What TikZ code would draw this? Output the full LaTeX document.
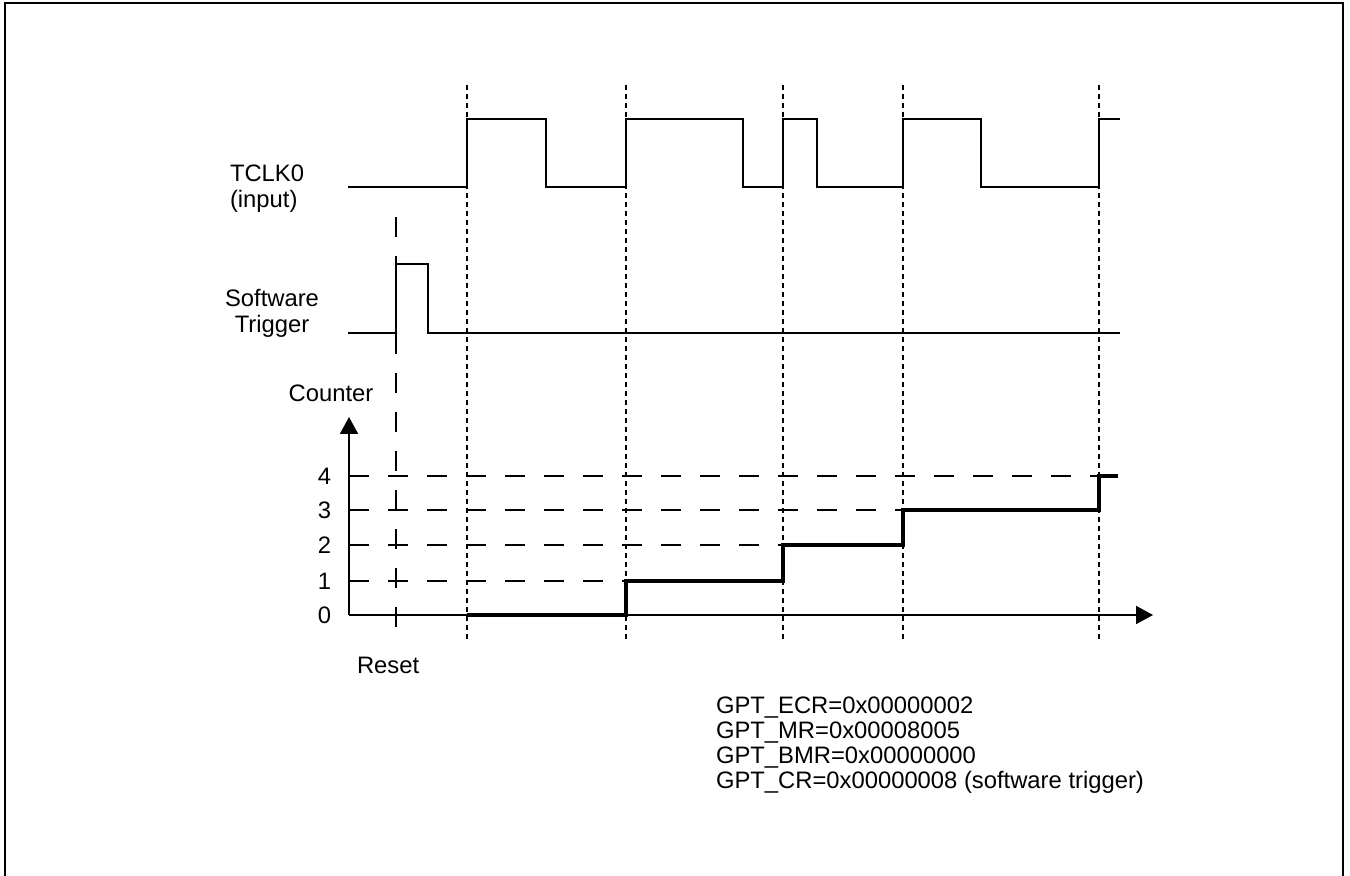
\documentclass[tikz,border=0pt]{standalone}
\usepackage{fontspec}
\setmainfont{Liberation Sans}
\usetikzlibrary{arrows.meta}
\begin{document}
\begin{tikzpicture}[x=0.5pt,y=-0.5pt,
  lbl/.style={inner sep=0pt,outer sep=0pt,font=\fontsize{11.9pt}{13pt}\selectfont},
  regtxt/.style={inner sep=0pt,outer sep=0pt,font=\fontsize{11.9pt}{12.6pt}\selectfont},
  wave/.style={line width=0.95pt,line join=miter},
  cnt/.style={line width=1.6pt,line join=miter},
  edgeline/.style={line width=0.75pt,dash pattern=on 2.5pt off 2pt},
  longdash/.style={line width=0.75pt,dash pattern=on 10pt off 9.5pt},
  axisline/.style={line width=0.95pt,-{Triangle[length=8.5pt,width=9pt]}}]
\useasboundingbox (0,0) rectangle (1350,876);
% frame
\draw[line width=1pt] (5,876) -- (5,3) -- (1343,3) -- (1343,876);
% labels (base anchor = last line baseline)
\node[lbl,anchor=base west,align=left] (tclk) at (230,207.5) {TCLK0\\(input)};
\node[lbl,anchor=base,align=center] (swt) at (272,332.5) {Software\\Trigger};
\node[lbl,anchor=base] (cntlbl) at (331,402) {Counter};
\node[lbl,anchor=base west] (reset) at (357,674) {Reset};
\node[regtxt,anchor=base west,align=left] (regs) at (716,789)
  {GPT\_ECR=0x00000002\\GPT\_MR=0x00008005\\GPT\_BMR=0x00000000\\GPT\_CR=0x00000008 (software trigger)};
\foreach \v/\yy in {0/615,1/581,2/545,3/510,4/476}
  \node[lbl,anchor=east] (lv\v) at (331,\yy) {\v};
% edge coordinates
\foreach \n/\xx in {a/467,b/626,c/783,d/903,e/1099}{
  \coordinate (\n top) at (\xx,85);
  \coordinate (\n bot) at (\xx,640);
}
\coordinate (rtop) at (396,217);
\coordinate (rbot) at (396,627);
\coordinate (origin) at (349,615);
\coordinate (ytip) at (349,417);
\coordinate (xtip) at (1153,615);
% dotted edge lines
\foreach \n in {a,b,c,d,e}
  \draw[edgeline] (\n top) -- (\n bot);
% reset line
\draw[longdash] (rtop) -- (rbot);
% TCLK0 waveform
\draw[wave] (348,187) -- (467,187) -- (467,119) -- (546,119) -- (546,187)
  -- (626,187) -- (626,119) -- (743,119) -- (743,187) -- (783,187)
  -- (783,119) -- (817,119) -- (817,187) -- (903,187) -- (903,119)
  -- (981,119) -- (981,187) -- (1099,187) -- (1099,119) -- (1120,119);
% software trigger
\draw[wave] (348,333) -- (396,333) -- (396,264) -- (428,264) -- (428,333) -- (1120,333);
% level dashed lines
\draw[longdash] (349,581) -- (626,581);
\draw[longdash] (349,545) -- (783,545);
\draw[longdash] (349,510) -- (903,510);
\draw[longdash] (349,476) -- (1099,476);
% axes
\draw[axisline] (origin) -- (ytip);
\draw[axisline] (origin) -- (xtip);
% counter staircase
\draw[cnt] (467,615) -- (626,615) -- (626,581) -- (783,581) -- (783,545)
  -- (903,545) -- (903,510) -- (1099,510) -- (1099,476) -- (1118,476);
\end{tikzpicture}
\end{document}
